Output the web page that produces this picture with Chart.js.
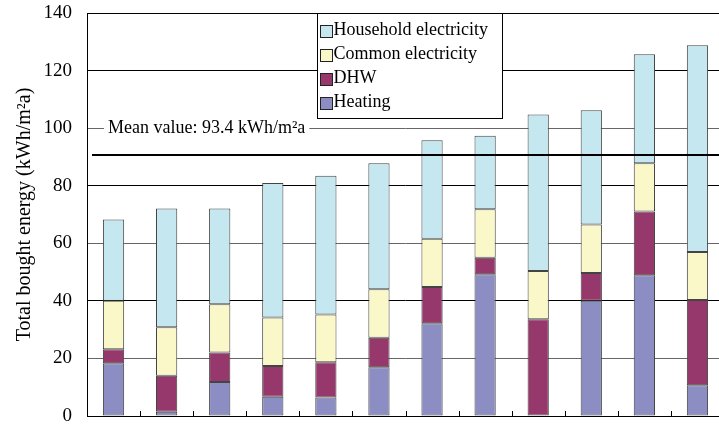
<!DOCTYPE html>
<html>
<head>
<meta charset="utf-8">
<script src="https://cdn.jsdelivr.net/npm/chart.js@4/dist/chart.umd.min.js"></script>
<style>
  html, body { margin: 0; padding: 0; background: #fff; overflow: hidden; }
</style>
</head>
<body>
<canvas id="energyChart" width="740" height="426"></canvas>
<script>
// buildings (no labels shown on the x axis)
const buildings = ['1', '2', '3', '4', '5', '6', '7', '8', '9', '10', '11', '12'];
const heating = [18.3, 1.5, 11.8, 6.7, 6.4, 16.9, 32.2, 49.2, 0, 40.0, 48.9, 10.7];
const dhw = [4.9, 12.5, 10.3, 10.7, 12.3, 10.3, 12.6, 5.8, 33.6, 9.7, 22.1, 29.6];
const commonElectricity = [16.8, 16.8, 16.7, 16.8, 16.6, 16.8, 16.8, 16.8, 16.8, 16.8, 16.8, 16.7];
const householdElectricity = [28.3, 41.3, 33.3, 46.7, 48.2, 43.8, 34.2, 25.6, 54.3, 39.7, 37.9, 71.8];
const yTicks = [0, 20, 40, 60, 80, 100, 120, 140];
const meanLineValue = 90.7;
const meanLabelAt = 100;
const meanLabel = 'Mean value: 93.4 kWh/m²a';

const serif = '"Liberation Serif", "DejaVu Serif", serif';

// frame round the plot area
const chartAreaBorder = {
  id: 'chartAreaBorder',
  afterDatasetsDraw(chart) {
    const { ctx, chartArea: { left, top, width, height } } = chart;
    ctx.save();
    ctx.strokeStyle = '#000';
    ctx.lineWidth = 1;
    ctx.strokeRect(left + 0.5, top + 0.5, width, height);
    // small ticks between the bars, pointing up
    const x = chart.scales.x;
    ctx.beginPath();
    for (let i = 1; i < buildings.length; i++) {
      const px = Math.round((x.getPixelForValue(i - 1) + x.getPixelForValue(i)) / 2) + 0.5;
      ctx.moveTo(px, top + height);
      ctx.lineTo(px, top + height - 5);
    }
    ctx.stroke();
    ctx.restore();
  },
};

// mean line, its label and the boxed legend
const extras = {
  id: 'extras',
  afterDraw(chart) {
    const { ctx, chartArea: { left, right, top } } = chart;
    const y = chart.scales.y;
    ctx.save();
    // mean line
    const my = y.getPixelForValue(meanLineValue);
    ctx.strokeStyle = '#000';
    ctx.lineWidth = 2;
    ctx.beginPath();
    ctx.moveTo(left + 5, my);
    ctx.lineTo(right, my);
    ctx.stroke();
    // label over the 100 gridline
    ctx.font = '18px ' + serif;
    const ly = y.getPixelForValue(meanLabelAt);
    const tw = ctx.measureText(meanLabel).width;
    ctx.fillStyle = '#fff';
    ctx.fillRect(left + 17, ly - 10, tw + 8, 20);
    ctx.fillStyle = '#000';
    ctx.textBaseline = 'middle';
    ctx.fillText(meanLabel, left + 21, ly);
    // legend
    const boxW = 185;
    const boxH = 105;
    const bx = Math.round((left + right) / 2 - boxW / 2 + 4) + 0.5;
    const by = top + 0.5;
    ctx.fillStyle = '#fff';
    ctx.fillRect(bx, by, boxW, boxH);
    ctx.lineWidth = 1;
    ctx.strokeStyle = '#000';
    ctx.strokeRect(bx, by, boxW, boxH);
    const items = chart.data.datasets.slice().reverse();
    ctx.font = '18px ' + serif;
    items.forEach((ds, i) => {
      const cy = by + 17 + i * 24;
      ctx.fillStyle = ds.backgroundColor;
      ctx.fillRect(bx + 3, Math.round(cy - 6), 12, 12);
      ctx.strokeStyle = '#222';
      ctx.strokeRect(bx + 3, Math.round(cy - 6) + 0.5, 12, 12);
      ctx.fillStyle = '#000';
      ctx.fillText(ds.label, bx + 16, cy);
    });
    ctx.restore();
  },
};

const barStyle = { borderColor: '#444', borderWidth: 1, borderSkipped: false };

new Chart(document.getElementById('energyChart').getContext('2d'), {
  type: 'bar',
  data: {
    labels: buildings,
    datasets: [
      { label: 'Heating', data: heating, backgroundColor: '#8B8DC3', ...barStyle },
      { label: 'DHW', data: dhw, backgroundColor: '#96386B', ...barStyle },
      { label: 'Common electricity', data: commonElectricity, backgroundColor: '#FAF8C9', ...barStyle },
      { label: 'Household electricity', data: householdElectricity, backgroundColor: '#C5E7EF', ...barStyle },
    ],
  },
  options: {
    responsive: false,
    animation: false,
    layout: { padding: { top: 13, right: 16, bottom: 10, left: 0 } },
    datasets: { bar: { barPercentage: 0.4, categoryPercentage: 1 } },
    scales: {
      x: {
        stacked: true,
        display: false,
      },
      y: {
        stacked: true,
        min: 0,
        max: 140,
        afterFit(scale) {
          scale.width = 87;
          scale.paddingTop = 0;
          scale.paddingBottom = 0;
        },
        afterBuildTicks(scale) { scale.ticks = yTicks.map((v) => ({ value: v })); },
        border: { display: false },
        grid: {
          drawTicks: false,
          color: (c) => (c.tick && c.tick.value % 40 === 0 ? '#000' : '#666'),
        },
        ticks: {
          padding: 15,
          color: '#000',
          font: { family: serif, size: 19 },
        },
        title: {
          display: true,
          text: 'Total bought energy (kWh/m²a)',
          color: '#000',
          font: { family: serif, size: 20 },
          padding: { top: 13, bottom: 0 },
        },
      },
    },
    plugins: {
      legend: { display: false },
      tooltip: { enabled: false },
    },
  },
  plugins: [chartAreaBorder, extras],
});
</script>
</body>
</html>
